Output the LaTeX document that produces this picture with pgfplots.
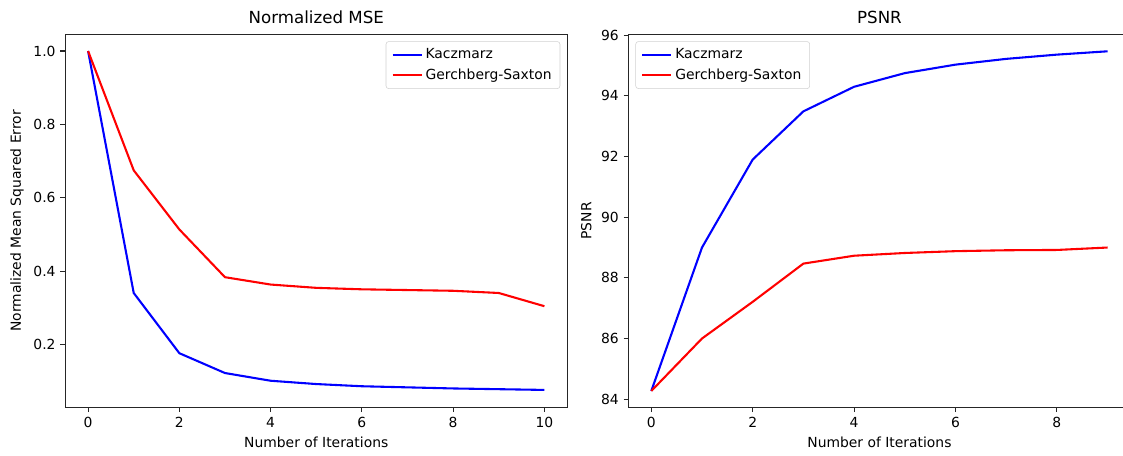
\documentclass[border=0pt]{standalone}
\usepackage{fontspec}
\setmainfont{DejaVu Sans}
\usepackage{pgfplots}
\pgfplotsset{compat=1.18}
\pgfplotsset{
  mpl/.style={
    scale only axis,
    height=268.6pt,
    axis line style={line width=0.8pt, black!85},
    tick style={black!85, line width=0.8pt},
    tick align=outside,
    major tick length=3.5pt,
    xtick pos=lower, ytick pos=left,
    /pgf/number format/assume math mode=true,
    tick label style={font=\fontsize{10}{12}\selectfont},
    label style={font=\fontsize{10}{12}\selectfont},
    title style={font=\fontsize{12}{14}\selectfont, at={(0.5,1)}, anchor=south, yshift=-2pt},
    legend style={font=\fontsize{10}{12}\selectfont, draw=black!18, rounded corners=2pt,
      fill=white, fill opacity=0.8, text opacity=1, inner xsep=4pt, inner ysep=3pt, row sep=2pt},
    legend cell align=left,
    legend image code/.code={\draw[#1] (0pt,0pt) -- (21pt,0pt);},
    every axis plot/.append style={line width=1.5pt},
  }
}
\begin{document}
\begin{tikzpicture}
\useasboundingbox (0,0) rectangle (808.56pt,327.6pt);
\begin{axis}[mpl, width=361.4pt,
  at={(47.0pt,34.3pt)}, anchor=south west,
  title={Normalized MSE},
  xmin=-0.5, xmax=10.5, ymin=0.0295, ymax=1.0455,
  xtick={0,2,4,6,8,10},
  ytick={0.2,0.4,0.6,0.8,1.0},
  yticklabel style={/pgf/number format/.cd, fixed, fixed zerofill, precision=1},
  xlabel={Number of Iterations},
  ylabel={Normalized Mean Squared Error},
  legend style={at={(1,1)}, anchor=north east, xshift=-5pt, yshift=-5pt},
]
\addplot[blue] coordinates {(0,1.0) (1,0.341) (2,0.177) (3,0.123) (4,0.102) (5,0.093) (6,0.087) (7,0.084) (8,0.081) (9,0.079) (10,0.077)};
\addlegendentry{Kaczmarz}
\addplot[red] coordinates {(0,1.0) (1,0.675) (2,0.514) (3,0.384) (4,0.364) (5,0.355) (6,0.351) (7,0.349) (8,0.347) (9,0.341) (10,0.305)};
\addlegendentry{Gerchberg-Saxton}
\end{axis}
\begin{axis}[mpl, width=356.06pt,
  at={(452.5pt,34.3pt)}, anchor=south west,
  axis line style={draw=none},
  clip=false,
  title={PSNR},
  title style={at={(0.5075,1)}},
  xlabel style={at={(ticklabel cs:0.5075)}},
  xmin=-0.45, xmax=9.304, ymin=83.73, ymax=96.03,
  xtick={0,2,4,6,8},
  ytick={84,86,88,90,92,94,96},
  xlabel={Number of Iterations},
  ylabel={PSNR},
  legend style={at={(0,1)}, anchor=north west, xshift=5pt, yshift=-5pt},
]
\draw[line width=0.8pt, black!85] (rel axis cs:1,0) -- (rel axis cs:0,0) -- (rel axis cs:0,1) -- (rel axis cs:1,1);
\addplot[blue] coordinates {(0,84.27) (1,89.0) (2,91.90) (3,93.49) (4,94.30) (5,94.75) (6,95.03) (7,95.22) (8,95.36) (9,95.47)};
\addlegendentry{Kaczmarz}
\addplot[red] coordinates {(0,84.27) (1,86.0) (2,87.21) (3,88.47) (4,88.73) (5,88.82) (6,88.88) (7,88.91) (8,88.92) (9,89.0)};
\addlegendentry{Gerchberg-Saxton}
\end{axis}
\end{tikzpicture}
\end{document}
